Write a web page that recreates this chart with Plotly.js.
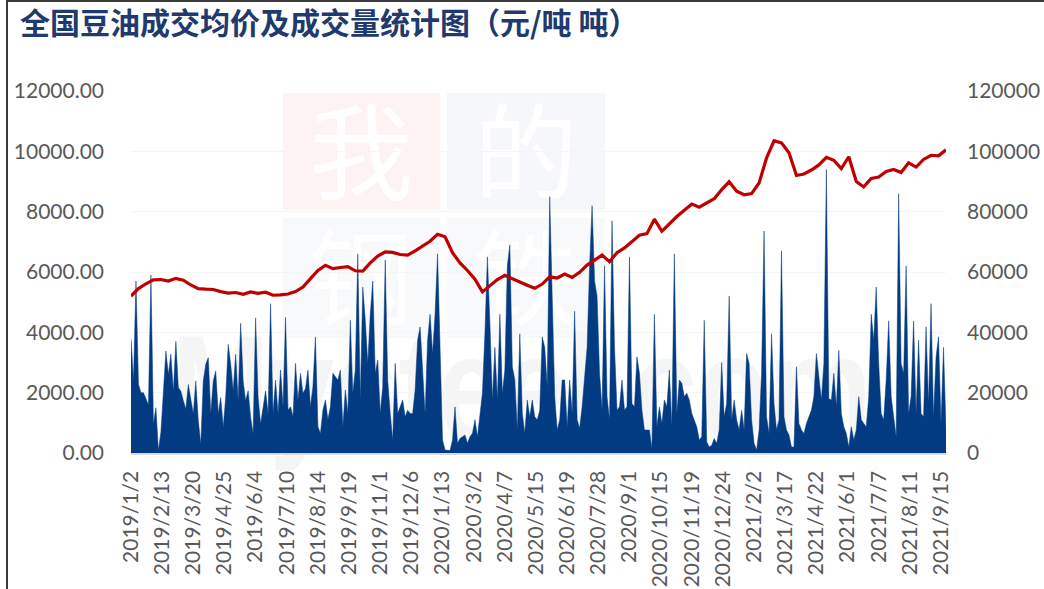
<!DOCTYPE html>
<html><head><meta charset="utf-8">
<script src="https://cdn.plot.ly/plotly-3.0.1.min.js"></script>
<style>html,body{margin:0;padding:0;background:#fff}#chart{width:1044px;height:589px}</style>
</head><body><div id="chart"></div>
<script>
// Category tick labels (one label every 25 trading days)
const tickLabels = ["2019/1/2","2019/2/13","2019/3/20","2019/4/25","2019/6/4","2019/7/10","2019/8/14","2019/9/19","2019/11/1","2019/12/6","2020/1/13","2020/3/2","2020/4/7","2020/5/15","2020/6/19","2020/7/28","2020/9/1","2020/10/15","2020/11/19","2020/12/24","2021/2/2","2021/3/17","2021/4/22","2021/6/1","2021/7/7","2021/8/11","2021/9/15"];
const tradingDaysPerLabel = 25;
const lastTradingDay = 654;

// 成交量 (吨), sampled every 2 trading days
const volumeStep = 2;
const volume = [
38000,24000,57000,22800,20000,20000,18000,16000,59000,9600,
15000,800,7000,19500,33800,26000,32700,20500,37000,21700,
20500,17300,14500,22700,17300,12900,23900,10700,3000,23900,
29400,31600,12900,23900,27200,12900,18400,8500,18400,36000,
29400,20600,32700,17300,43000,23900,17300,20600,11800,6300,
44800,18400,9600,15100,20600,12900,
49500,13100,24200,13100,27500,15300,45000,14200,15300,12000,
29700,17600,26400,19800,21400,27500,15300,22000,38500,8700,
6500,14200,17600,11000,15300,26400,25300,24200,27500,8700,
20900,13100,44000,19800,27500,66000,17600,55000,44000,29700,
46000,57000,26400,30800,13100,22000,64000,24200,13100,4300,
29700,13100,15300,17600,12000,14200,13100,
13000,20900,37400,41800,26400,13100,37400,46000,33000,46000,
66000,31900,4300,1000,800,800,4300,15300,3200,4800,
5400,6000,3200,5400,6500,11000,5400,13100,19800,39500,
65000,43000,17600,35000,17600,46000,19800,27500,62000,69000,
28600,24200,7600,39500,13100,6500,17600,12000,17600,12000,
11000,14200,38500,35000,22000,85000,
52000,18700,7600,11000,24200,24200,8700,24200,13100,47000,
11000,8200,15300,24200,35000,62000,82000,57000,52000,26400,
14200,62000,18700,11000,77000,35000,14200,15300,24200,14200,
15300,65000,16400,15300,31900,26400,14200,7600,7600,7600,
1500,46000,8700,15300,9800,17600,15300,27500,8700,66000,
13100,24200,23100,18700,19800,17600,
13100,11000,8700,4300,5400,44000,3700,2000,2600,4800,
3200,7600,30000,12000,16400,52000,11000,17600,11000,7600,
14200,7600,33000,29700,11000,3200,1000,7600,26400,73600,
12000,6500,39500,16400,7600,11000,67000,12000,7600,6000,
2000,2000,28600,9800,7600,6500,9800,12000,14200,18700,
33000,25300,17600,29700,94000,18000,
17600,26400,15300,34000,13100,8700,6500,2000,8700,4300,
7600,18700,11000,9800,8700,18700,46000,37400,55000,29700,
13100,11000,24200,43800,18700,12000,5400,86000,29700,26400,
62000,13100,18700,43800,13100,37400,13100,12000,41800,16400,
49500,12000,31700,38500,9800,35000,7600
];

// 成交均价 (元/吨), sampled every 6 trading days
const priceStep = 6;
const price = [
5200,5450,5610,5740,5750,5700,5790,5730,5570,5450,
5430,5420,5350,5300,5320,5260,5340,5290,5330,5230,
5240,5270,5350,5500,5780,6050,6220,6110,6150,6180,
6040,6030,6300,6530,6670,6650,6580,6560,6700,6860,
7020,7250,7170,6640,6300,6050,5760,5340,5560,5750,
5890,5790,5670,5560,5460,5600,5840,5800,5930,5820,
5990,6230,6390,6560,6340,6640,6800,7000,7220,7270,
7750,7350,7600,7840,8050,8250,8150,8300,8430,8730,
8990,8680,8560,8600,8950,9780,10350,10280,9950,9200,
9250,9380,9550,9800,9700,9430,9820,9000,8820,9100,
9150,9330,9400,9300,9620,9480,9730,9870,9850,10050
];

const volX = volume.map((_, k) => k * volumeStep);
const priceX = price.map((_, k) => k * priceStep);
const tickVals = tickLabels.map((_, k) => k * tradingDaysPerLabel);

const L = 131, R = 946, T = 91, B = 453;
const W = 1044, H = 589;
const px2x = p => (p - L) / (R - L);
const py2y = p => (B - p) / (B - T);

// faint background watermark (我的钢铁 / Mysteel.com)
const wm = "<svg xmlns='http://www.w3.org/2000/svg' width='1044' height='589' viewBox='0 0 1044 589'>" +
  "<rect x='283' y='93' width='157' height='117' fill='#FDF3F3'/>" +
  "<rect x='447' y='93' width='158' height='117' fill='#F6F7FA'/>" +
  "<rect x='283' y='218' width='157' height='120' fill='#F8F9FB'/>" +
  "<rect x='447' y='218' width='158' height='120' fill='#F8F9FB'/>" +
  "<g font-family='Noto Sans CJK SC' font-size='104' fill='#FFFFFF' text-anchor='middle'>" +
  "<text x='361' y='192'>我</text><text x='526' y='192'>的</text>" +
  "<text x='361' y='318'>钢</text><text x='526' y='318'>铁</text></g>" +
  "<text x='172' y='440' font-family='Liberation Sans' font-weight='bold' font-size='150' fill='#F3F3F3' fill-opacity='0.8' textLength='700' lengthAdjust='spacingAndGlyphs'>Mysteel.com</text>" +
  "</svg>";

const tickFont = {family: 'Lato, "Liberation Sans", sans-serif', size: 21, color: '#595959'};

const traces = [
  {x: volX, y: volume, yaxis: 'y', type: 'scatter', mode: 'lines', name: '成交量',
   line: {color: '#023B82', width: 0.5}, fill: 'tozeroy', fillcolor: '#023B82', hoverinfo: 'skip'},
  {x: priceX, y: price, yaxis: 'y2', type: 'scatter', mode: 'lines', name: '成交均价',
   line: {color: '#C00000', width: 3.2}, hoverinfo: 'skip'}
];

const layout = {
  width: W, height: H,
  paper_bgcolor: '#ffffff', plot_bgcolor: 'rgba(0,0,0,0)',
  margin: {l: L, r: W - R, t: T, b: H - B},
  showlegend: false,
  title: {text: '全国豆油成交均价及成交量统计图（元/吨 吨）', xref: 'container', yref: 'container',
          x: 20 / W, xanchor: 'left', y: 1 - 23 / H, yanchor: 'middle',
          font: {family: '"Noto Sans CJK SC", sans-serif', size: 30, color: '#1F3A6E', weight: 700}},
  xaxis: {range: [0, lastTradingDay], tickmode: 'array', tickvals: tickVals, ticktext: tickLabels,
          tickangle: -90, tickfont: tickFont, showgrid: false, zeroline: false,
          showline: true, linecolor: '#D9D9D9', linewidth: 1.5, ticks: '', ticklabelstandoff: 8},
  yaxis: {range: [0, 120000], dtick: 20000, tickformat: 'd', side: 'right', tickfont: tickFont,
          showgrid: false, zeroline: false, ticks: '', ticklabelstandoff: 20},
  yaxis2: {range: [0, 12000], dtick: 2000, tickformat: '.2f', side: 'left', overlaying: 'y',
           tickfont: tickFont, showgrid: true, gridcolor: '#F5F5F5', gridwidth: 1, zeroline: false,
           ticks: '', ticklabelstandoff: 26},
  images: [{source: 'data:image/svg+xml;charset=utf-8,' + encodeURIComponent(wm),
            xref: 'paper', yref: 'paper', x: px2x(0), y: py2y(0), sizex: W / (R - L), sizey: H / (B - T),
            xanchor: 'left', yanchor: 'top', sizing: 'stretch', layer: 'below'}],
  shapes: [
    {type: 'line', xref: 'paper', yref: 'paper', x0: px2x(7), x1: px2x(1044), y0: py2y(1), y1: py2y(1),
     line: {color: '#3a3a3a', width: 2}},
    {type: 'line', xref: 'paper', yref: 'paper', x0: px2x(7), x1: px2x(7), y0: py2y(0), y1: py2y(589),
     line: {color: '#3a3a3a', width: 2}}
  ]
};

Plotly.newPlot('chart', traces, layout, {staticPlot: true, displayModeBar: false});
</script>
</body></html>
